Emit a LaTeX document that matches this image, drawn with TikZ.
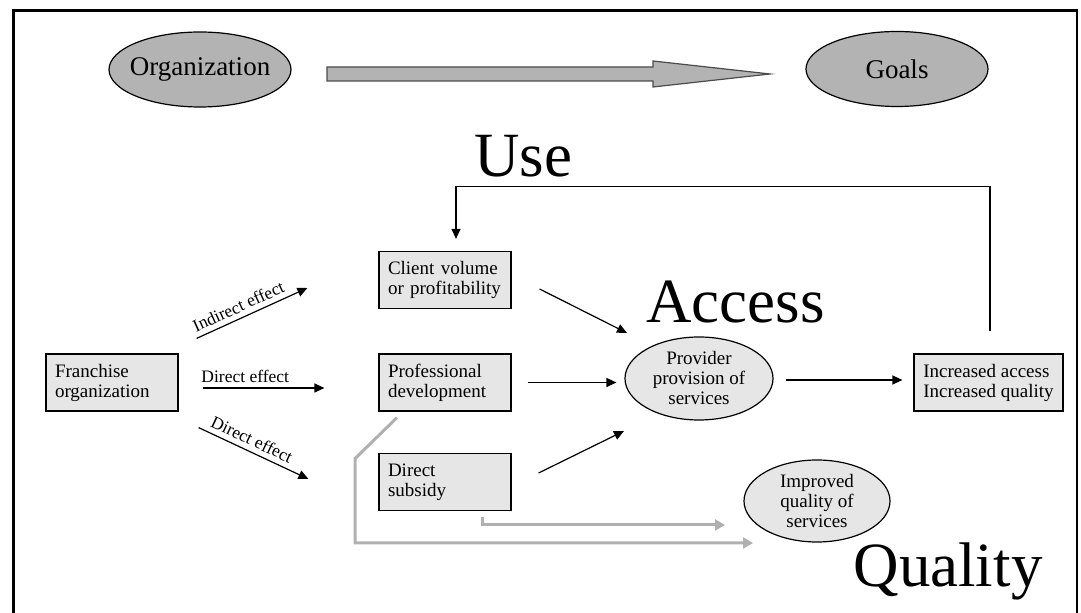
\documentclass[tikz,border=0pt]{standalone}
\usepackage{fontspec}
\setmainfont{Liberation Serif}
\usetikzlibrary{shapes.geometric,arrows.meta,calc}
\definecolor{boxgray}{HTML}{E6E6E6}
\definecolor{topgray}{HTML}{B3B3B3}
\definecolor{linegray}{HTML}{B0B0B0}

\begin{document}
\begin{tikzpicture}[x=0.5pt,y=-0.5pt,
    box/.style={draw,line width=0.6pt,fill=boxgray,minimum height=28.5pt,inner xsep=4.5pt,align=left,font=\fontsize{9.5}{10}\selectfont},
    textbox/.style={box,text width=57pt},
    oval/.style={ellipse,draw,line width=0.6pt,fill=boxgray,inner sep=0pt,align=center,font=\fontsize{9.5}{10}\selectfont},
    topoval/.style={ellipse,draw,line width=0.6pt,fill=topgray,inner sep=0pt,minimum width=91pt,minimum height=37.5pt,font=\fontsize{13.5}{14}\selectfont},
    bigword/.style={anchor=base,inner sep=0pt,font=\fontsize{31.5}{32}\selectfont},
    effect/.style={->,line width=0.6pt},
    tag/.style={sloped,above,inner sep=2.5pt,font=\fontsize{8.75}{9}\selectfont},
    qualityline/.style={-{Triangle[length=5pt,width=5.5pt]},line width=1.5pt,draw=linegray},
    >={Triangle[length=5pt,width=4.5pt]}]
    \useasboundingbox (0,0) rectangle (1081,613);

    % frame
    \draw[line width=1.4pt] (13.5,613) -- (13.5,10.5) -- (1077,10.5) -- (1077,613);

    % top row
    \node[topoval] (org) at (200,69.5) {\makebox[40pt]{Organization}};
    \node[topoval] (goals) at (897,69) {Goals};
    \draw[fill=topgray,draw=black!70,line width=0.6pt] (327,67) -- (653,67) -- (653,61) -- (770,74) -- (653,87) -- (653,81) -- (327,81) -- cycle;

    % nodes
    \node[textbox] (fr) at (112,382.5) {Franchise\\organization};
    \node[textbox] (cl) at (445,280) {Client volume\\or profitability};
    \node[textbox] (pd) at (445,382.5) {Professional\\development};
    \node[textbox] (ds) at (445,482) {Direct\\subsidy};
    \node[oval,minimum width=74pt,minimum height=41.5pt] (pv) at (699,378.5) {Provider\\provision of\\services};
    \node[oval,minimum width=73pt,minimum height=41pt] (imp) at (817,501) {Improved\\quality of\\services};
    \node[box,minimum width=74.5pt] (inc) at (988.5,382.5) {Increased access\\Increased quality};

    \node[bigword] (use) at (523,177) {Use};
    \node[bigword] (access) at (735.5,323) {Access};
    \node[bigword] (quality) at (948,587) {Quality};

    % effects of the franchise
    \draw[effect] ($(fr.north east)+(18,-15)$) to node[tag,pos=0.42] {Indirect effect} ($(cl.west)+(-71,8)$);
    \draw[effect] ($(fr.east)+(24,5.5)$) to node[tag,pos=0.35] {Direct effect} ($(pd.west)+(-54,5.5)$);
    \draw[effect] ($(fr.south east)+(20,16)$) to node[tag,pos=0.44] {Direct effect} ($(ds.west)+(-70,-3)$);

    % into the provider
    \draw[effect] ($(cl.east)+(28,9)$) -- ($(pv)+(-72,-45.5)$);
    \draw[effect] ($(pd.east)+(16,0)$) -- ($(pv.west)+(-8,4)$);
    \draw[effect] ($(ds.east)+(27,-9)$) -- ($(pv)+(-75,52.5)$);
    \draw[effect] ($(pv.east)+(12,1.5)$) -- ($(inc.west)+(-11,-2.5)$);

    % feedback
    \draw[effect] ($(inc.north)+(1.5,-22)$) |- ($(cl.north)+(11,-64)$) -- ($(cl.north)+(11,-12)$);

    % quality paths
    \draw[qualityline] ($(pd.south)+(-48,6)$) -- ++(-42,41) |- ($(imp)+(-64,42)$);
    \draw[qualityline] ($(ds.south)+(37,6)$) |- ($(imp)+(-92,24)$);
\end{tikzpicture}
\end{document}
